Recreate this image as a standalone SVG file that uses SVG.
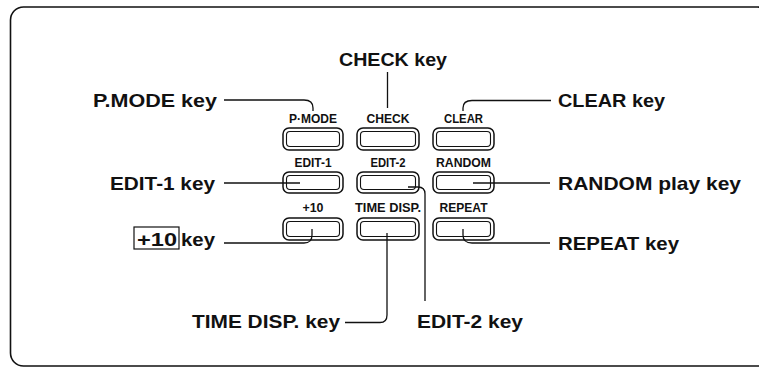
<svg xmlns="http://www.w3.org/2000/svg" width="759" height="368" viewBox="0 0 759 368">
<style>
.frame{fill:none;stroke:#111;stroke-width:1.6}
.btn-o{fill:none;stroke:#111;stroke-width:1.5}
.btn-i{fill:none;stroke:#111;stroke-width:1.1}
.lbl{font-family:"Liberation Sans",Arial,sans-serif;font-weight:bold;font-size:19px;fill:#111}
.key{font-family:"Liberation Sans",Arial,sans-serif;font-weight:bold;font-size:12px;fill:#111;text-anchor:middle}
.conn path{fill:none;stroke:#111;stroke-width:1.3}
</style>
<rect class="frame" x="10.5" y="7" width="760" height="359" rx="13"/>

<g id="btn-pmode"><text class="key" x="313" y="123" textLength="48" lengthAdjust="spacingAndGlyphs">P·MODE</text><rect class="btn-o" x="283" y="128" width="60" height="22" rx="6"/><rect class="btn-i" x="286.5" y="131.5" width="53" height="15" rx="3.5"/></g>
<g id="btn-check"><text class="key" x="388" y="123" textLength="43" lengthAdjust="spacingAndGlyphs">CHECK</text><rect class="btn-o" x="357" y="128" width="62" height="22" rx="6"/><rect class="btn-i" x="360.5" y="131.5" width="55" height="15" rx="3.5"/></g>
<g id="btn-clear"><text class="key" x="463.5" y="123" textLength="39" lengthAdjust="spacingAndGlyphs">CLEAR</text><rect class="btn-o" x="433" y="128" width="61" height="22" rx="6"/><rect class="btn-i" x="436.5" y="131.5" width="54" height="15" rx="3.5"/></g>

<g id="btn-edit1"><text class="key" x="313" y="167" textLength="37" lengthAdjust="spacingAndGlyphs">EDIT-1</text><rect class="btn-o" x="283" y="172" width="60" height="21" rx="6"/><rect class="btn-i" x="286.5" y="175.5" width="53" height="14" rx="3.5"/></g>
<g id="btn-edit2"><text class="key" x="388" y="167" textLength="35" lengthAdjust="spacingAndGlyphs">EDIT-2</text><rect class="btn-o" x="357" y="172" width="62" height="21" rx="6"/><rect class="btn-i" x="360.5" y="175.5" width="55" height="14" rx="3.5"/></g>
<g id="btn-random"><text class="key" x="463.5" y="167" textLength="55" lengthAdjust="spacingAndGlyphs">RANDOM</text><rect class="btn-o" x="433" y="172" width="61" height="21" rx="6"/><rect class="btn-i" x="436.5" y="175.5" width="54" height="14" rx="3.5"/></g>

<g id="btn-plus10"><text class="key" x="313" y="212" textLength="21" lengthAdjust="spacingAndGlyphs">+10</text><rect class="btn-o" x="283" y="218" width="60" height="22" rx="6"/><rect class="btn-i" x="286.5" y="221.5" width="53" height="15" rx="3.5"/></g>
<g id="btn-timedisp"><text class="key" x="388" y="212" textLength="66" lengthAdjust="spacingAndGlyphs">TIME DISP.</text><rect class="btn-o" x="357" y="218" width="62" height="22" rx="6"/><rect class="btn-i" x="360.5" y="221.5" width="55" height="15" rx="3.5"/></g>
<g id="btn-repeat"><text class="key" x="463.5" y="212" textLength="48" lengthAdjust="spacingAndGlyphs">REPEAT</text><rect class="btn-o" x="433" y="218" width="61" height="22" rx="6"/><rect class="btn-i" x="436.5" y="221.5" width="54" height="15" rx="3.5"/></g>

<g id="lbl-check"><text class="lbl" x="339" y="66" textLength="108" lengthAdjust="spacingAndGlyphs">CHECK key</text></g>
<g id="lbl-pmode"><text class="lbl" x="93" y="107" textLength="124" lengthAdjust="spacingAndGlyphs">P.MODE key</text></g>
<g id="lbl-clear"><text class="lbl" x="558" y="107" textLength="107" lengthAdjust="spacingAndGlyphs">CLEAR key</text></g>
<g id="lbl-edit1"><text class="lbl" x="110" y="190" textLength="105" lengthAdjust="spacingAndGlyphs">EDIT-1 key</text></g>
<g id="lbl-random"><text class="lbl" x="558" y="190" textLength="183" lengthAdjust="spacingAndGlyphs">RANDOM play key</text></g>
<g id="lbl-plus10"><rect x="134" y="227" width="45" height="22" fill="none" stroke="#111" stroke-width="1.2"/><text class="lbl" x="137" y="246" textLength="40" lengthAdjust="spacingAndGlyphs">+10</text><text class="lbl" x="181" y="246" textLength="34" lengthAdjust="spacingAndGlyphs">key</text></g>
<g id="lbl-repeat"><text class="lbl" x="558" y="250" textLength="121" lengthAdjust="spacingAndGlyphs">REPEAT key</text></g>
<g id="lbl-timedisp"><text class="lbl" x="192" y="328" textLength="148" lengthAdjust="spacingAndGlyphs">TIME DISP. key</text></g>
<g id="lbl-edit2"><text class="lbl" x="417" y="328" textLength="106" lengthAdjust="spacingAndGlyphs">EDIT-2 key</text></g>

<g id="connectors" class="conn">
<path d="M387.5,72 V108"/>
<path d="M224,100 H304 Q313,100 313,108 V111"/>
<path d="M551,100.5 H472 Q463,100.5 463,108 V111"/>
<path d="M224,183 H300"/>
<path d="M550,183 H473"/>
<path d="M224,243 H304 Q312,243 312,235 V229"/>
<path d="M550,243 H472 Q463,243 463,235 V229"/>
<path d="M387,233 V315 Q387,322.5 380,322.5 H345"/>
<path d="M408,187 H418 Q425,187 425,194 V301"/>
</g>
</svg>
